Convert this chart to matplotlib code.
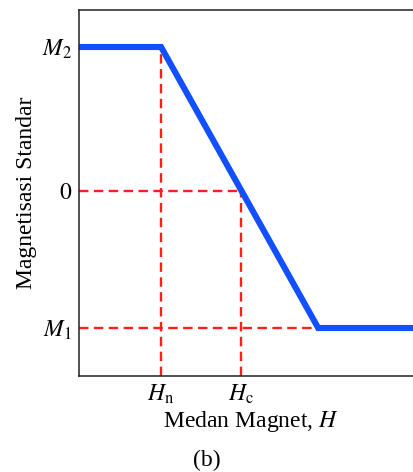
import numpy as np
import matplotlib.pyplot as plt

plt.rcParams['font.family'] = ['Liberation Serif', 'DejaVu Serif']
plt.rcParams['mathtext.fontset'] = 'stix'

# curve vertices (field H, magnetisation M)
curve_h = [0, 82, 239, 335]
curve_m = [144, 144, -137, -137]

h_n = 82
h_c = 162
m_2 = 144
m_1 = -137
m_0 = 0

xtick_pos = [h_n, h_c]
xtick_labels = [r'$H_\mathrm{n}$', r'$H_\mathrm{c}$']
ytick_pos = [m_1, m_0, m_2]
ytick_labels = [r'$M_1$', r'$0$', r'$M_2$']

fig = plt.figure(figsize=(4.14, 4.72), dpi=100)
ax = fig.add_axes([79 / 414, 96 / 472, 1.02 - 79 / 414, 366 / 472])

red = '#ff1e1e'
dash = dict(color=red, lw=1.7, dashes=(4, 2.3))
ax.plot([h_n, h_n], [-185, m_2], **dash)
ax.plot([h_c, h_c], [-185, m_0], **dash)
ax.plot([0, h_c], [m_0, m_0], **dash)
ax.plot([0, curve_h[2]], [m_1, m_1], **dash)

ax.plot(curve_h, curve_m, color='#1250ff', lw=4.4, solid_joinstyle='miter')

ax.set_xlim(0, 343)
ax.set_ylim(-185, 181)
ax.spines['right'].set_visible(False)
for s in ['left', 'top', 'bottom']:
    ax.spines[s].set_linewidth(1.1)
    ax.spines[s].set_color('#222222')

ax.set_xticks(xtick_pos, xtick_labels, fontsize=17)
ax.set_yticks(ytick_pos, ytick_labels, fontsize=17)
ax.tick_params(length=0, pad=5)

ax.set_xlabel(r'Medan Magnet, $H$', fontsize=17, labelpad=2)
ax.set_ylabel('Magnetisasi Standar', fontsize=17, labelpad=4)

fig.text(207 / 414, 1 - 460 / 472, '(b)', ha='center', va='center', fontsize=17)

fig.savefig('out.png', dpi=100)
